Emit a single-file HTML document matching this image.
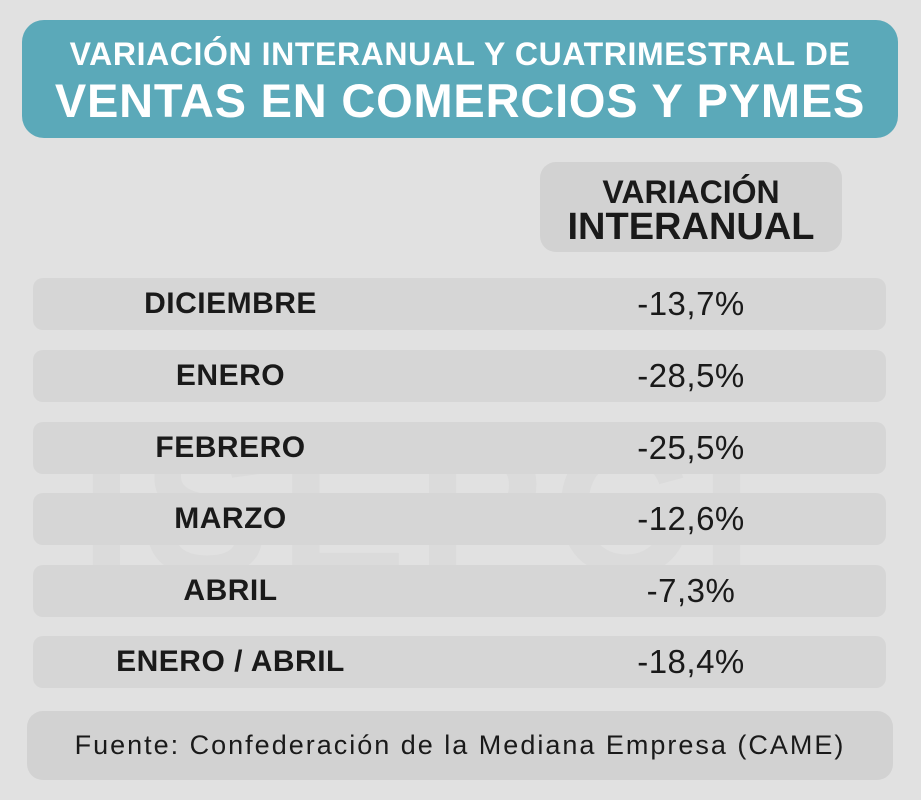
<!DOCTYPE html>
<html><head><meta charset="utf-8">
<style>
html,body{margin:0;padding:0;}
body{width:921px;height:800px;background:#e1e1e1;position:relative;overflow:hidden;font-family:"Liberation Sans",sans-serif;}
.box{position:absolute;}
#title{left:22px;top:20px;width:876px;height:118px;background:#5ba9b9;border-radius:22px;color:#fff;text-align:center;font-weight:bold;}
#t1{position:absolute;left:0;right:0;top:16px;font-size:32px;letter-spacing:0.6px;}
#t2{position:absolute;left:0;right:0;top:53px;font-size:47px;letter-spacing:0.8px;}
#hdr{left:540px;top:162px;width:302px;height:90px;background:#d2d2d2;border-radius:16px;text-align:center;font-weight:bold;color:#1a1a1a;}
.row{position:absolute;left:33px;width:853px;height:52px;background:#d6d6d6;border-radius:10px;}
.lab{position:absolute;left:0;width:395px;text-align:center;top:9px;font-size:30px;font-weight:bold;color:#1a1a1a;letter-spacing:0.5px;}
.val{position:absolute;left:507px;width:302px;text-align:center;top:7px;font-size:33px;color:#1a1a1a;letter-spacing:0.5px;}
#foot{left:27px;top:711px;width:866px;height:69px;background:#d2d2d2;border-radius:16px;text-align:center;font-size:27px;color:#1a1a1a;line-height:69px;letter-spacing:2px;}
#wm{left:80px;top:400px;font-size:190px;font-weight:bold;color:rgba(0,0,0,0.025);letter-spacing:10px;}
</style></head>
<body>
<div class="box" id="title">
  <div id="t1">VARIACIÓN INTERANUAL Y CUATRIMESTRAL DE</div>
  <div id="t2">VENTAS EN COMERCIOS Y PYMES</div>
</div>
<div class="box" id="hdr">
  <div style="position:absolute;left:0;right:0;top:12px;font-size:32px;">VARIACIÓN</div>
  <div style="position:absolute;left:0;right:0;top:44px;font-size:38px;">INTERANUAL</div>
</div>
<div class="box" id="wm">ISEPCI</div>
<div id="rows"></div>
<div class="box" id="foot">Fuente: Confederación de la Mediana Empresa (CAME)</div>
<script>
const categories=["DICIEMBRE","ENERO","FEBRERO","MARZO","ABRIL","ENERO / ABRIL"];
const values=["-13,7%","-28,5%","-25,5%","-12,6%","-7,3%","-18,4%"];
const tops=[278,350,422,493,565,636];
const c=document.getElementById('rows');
categories.forEach((cat,i)=>{
  const r=document.createElement('div');r.className='row';r.style.top=tops[i]+'px';
  
  
  const l=document.createElement('div');l.className='lab';l.textContent=cat;
  
  
  const v=document.createElement('div');v.className='val';v.textContent=values[i];
  
  
  r.appendChild(l);r.appendChild(v);c.appendChild(r);
});
</script>
</body></html>
